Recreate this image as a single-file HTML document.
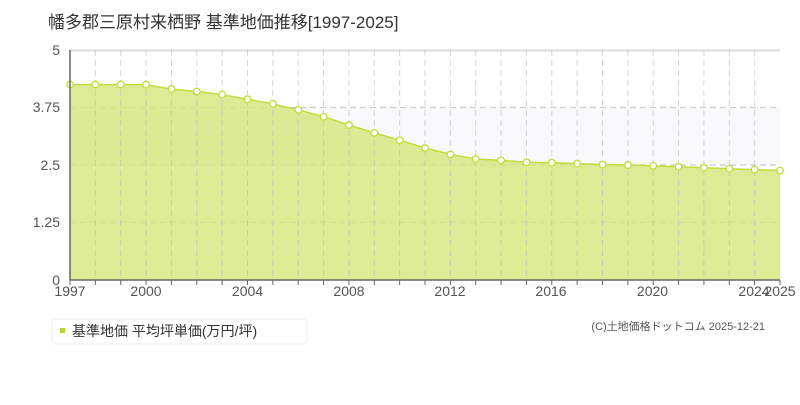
<!DOCTYPE html>
<html><head><meta charset="utf-8"><style>
body{margin:0;background:#fff;width:800px;height:400px;overflow:hidden;font-family:"Liberation Sans","Noto Sans CJK JP",sans-serif}
</style></head><body>
<svg width="800" height="400" xmlns="http://www.w3.org/2000/svg" font-family="'Liberation Sans','Noto Sans CJK JP',sans-serif">
<text x="48" y="28" font-size="17" fill="#333">幡多郡三原村来栖野 基準地価推移[1997-2025]</text>
<rect x="70" y="107.5" width="710" height="57.5" fill="#f9f8fa"/>
<line x1="70" y1="50.5" x2="780" y2="50.5" stroke="#ddd" stroke-width="2"/>
<g stroke="#ccc" stroke-dasharray="6,4" stroke-width="1.2">
<line x1="70" y1="107.5" x2="780" y2="107.5"/><line x1="70" y1="165" x2="780" y2="165"/><line x1="70" y1="222.5" x2="780" y2="222.5"/>
</g>
<g id="v" stroke="#ccc" stroke-dasharray="6,4" stroke-width="1"></g>
<polygon id="area" fill="#d4e67a" fill-opacity="0.8"/>
<polyline id="line" fill="none" stroke="#c3dc3c" stroke-width="1.5"/>
<g id="vv" stroke="#bbb" stroke-opacity="0.6" stroke-dasharray="6,4" stroke-width="1"></g>
<g id="pts"></g>
<line x1="70" y1="50" x2="70" y2="280" stroke="#666" stroke-width="1.5"/>
<line x1="70" y1="280" x2="780" y2="280" stroke="#666" stroke-width="1.5"/>
<g id="tk" stroke="#666"></g>
<g font-size="14" fill="#555" text-anchor="end">
<text x="60" y="55">5</text><text x="60" y="112">3.75</text><text x="60" y="170">2.5</text><text x="60" y="227">1.25</text><text x="60" y="285">0</text>
</g>
<g font-size="14" fill="#555" text-anchor="middle">
<text x="70" y="296">1997</text><text x="146" y="296">2000</text><text x="247.5" y="296">2004</text><text x="349" y="296">2008</text><text x="450" y="296">2012</text><text x="551" y="296">2016</text><text x="652.5" y="296">2020</text><text x="754" y="296">2024</text><text x="780" y="296">2025</text>
</g>
<rect x="52" y="319" width="255" height="25" rx="4" fill="#fff" stroke="#eee"/>
<rect x="60" y="328" width="5" height="5" fill="#b5d334"/>
<text x="72" y="336" font-size="14" fill="#333">基準地価 平均坪単価(万円/坪)</text>
<text x="765" y="330" font-size="11" fill="#555" text-anchor="end">(C)土地価格ドットコム 2025-12-21</text>
</svg>
<script>
var v=[4.25,4.25,4.25,4.25,4.15,4.1,4.03,3.93,3.83,3.7,3.55,3.37,3.2,3.04,2.87,2.73,2.63,2.6,2.56,2.55,2.53,2.51,2.5,2.48,2.46,2.44,2.42,2.4,2.38];
var ns="http://www.w3.org/2000/svg",p=[],pts=document.getElementById('pts'),g=document.getElementById('vv'),tk=document.getElementById('tk');
v.forEach(function(d,i){var x=70+i*710/28,y=280-d*46;p.push(x.toFixed(1)+','+y.toFixed(1));
if(i>0&&i<28){var l=document.createElementNS(ns,'line');l.setAttribute('x1',x);l.setAttribute('x2',x);l.setAttribute('y1',50);l.setAttribute('y2',280);g.appendChild(l);}
var t=document.createElementNS(ns,'line');t.setAttribute('x1',x);t.setAttribute('x2',x);t.setAttribute('y1',280);t.setAttribute('y2',285);tk.appendChild(t);
var c=document.createElementNS(ns,'circle');c.setAttribute('cx',x);c.setAttribute('cy',y);c.setAttribute('r',3.3);c.setAttribute('fill','#fff');c.setAttribute('stroke','#c3dc3c');c.setAttribute('stroke-width','1.3');pts.appendChild(c);});
document.getElementById('line').setAttribute('points',p.join(' '));
document.getElementById('area').setAttribute('points','70,280 '+p.join(' ')+' 780,280');
</script>
</body></html>
